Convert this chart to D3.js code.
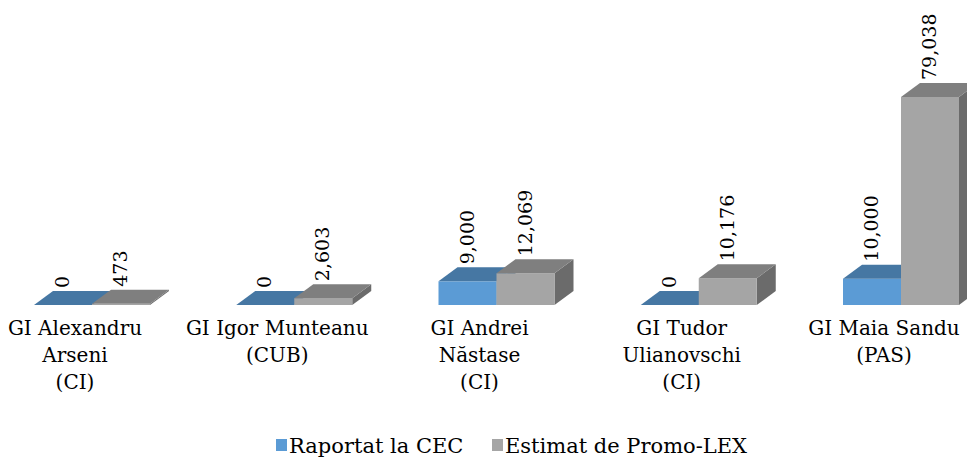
<!DOCTYPE html>
<html>
<head>
<meta charset="utf-8">
<script src="https://cdn.jsdelivr.net/npm/d3@7"></script>
<style>
  body { margin: 0; background: #fff; }
  svg { display: block; }
</style>
</head>
<body>
<div id="chart"></div>
<script>
// Raportat vs estimat - 3D clustered columns

const categories = ['Arseni', 'Munteanu', 'Nastase', 'Ulianovschi', 'Sandu'];
const categoryLabels = [
  ['GI Alexandru', 'Arseni', '(CI)'],
  ['GI Igor Munteanu', '(CUB)'],
  ['GI Andrei', 'Năstase', '(CI)'],
  ['GI Tudor', 'Ulianovschi', '(CI)'],
  ['GI Maia Sandu', '(PAS)']
];
const seriesNames = ['Raportat la CEC', 'Estimat de Promo-LEX'];
const reported = [0, 0, 9000, 0, 10000];
const estimated = [473, 2603, 12069, 10176, 79038];

const width = 967;
const height = 459;
const depthX = 19;
const depthY = -14;

const colors = {
  front: ['#5b9bd5', '#a5a5a5'],
  top: ['#4677a3', '#7f7f7f'],
  side: ['#3e6a93', '#6b6b6b']
};

const svg = d3.select('#chart')
  .append('svg')
  .attr('width', width)
  .attr('height', height);

const x = d3.scalePoint()
  .domain(categories)
  .range([92, 901]);

const xs = d3.scaleBand()
  .domain(seriesNames)
  .range([-58, 58]);

const y = d3.scaleLinear()
  .domain([0, 79038])
  .range([305, 97]);

const fmt = d3.format(',');

const rows = [];
categories.forEach((c, i) => {
  rows.push({ cat: c, s: 0, v: reported[i] });
  rows.push({ cat: c, s: 1, v: estimated[i] });
});

// bars, back to front: blue then gray within each category
const bars = svg.append('g')
  .selectAll('g')
  .data(rows)
  .enter().append('g');

bars.each(function(d) {
  const g = d3.select(this);
  const x0 = x(d.cat) + xs(seriesNames[d.s]);
  const x1 = x0 + xs.bandwidth();
  const y0 = y(0);
  const y1 = y(d.v);

  // side face
  g.append('path')
    .attr('d', `M${x1},${y1}L${x1 + depthX},${y1 + depthY}L${x1 + depthX},${y0 + depthY}L${x1},${y0}Z`)
    .attr('fill', colors.side[d.s]);
  // front face
  g.append('rect')
    .attr('x', x0)
    .attr('y', y1)
    .attr('width', xs.bandwidth())
    .attr('height', y0 - y1)
    .attr('fill', colors.front[d.s]);
  // top face
  g.append('path')
    .attr('d', `M${x0},${y1}L${x0 + depthX},${y1 + depthY}L${x1 + depthX},${y1 + depthY}L${x1},${y1}Z`)
    .attr('fill', colors.top[d.s]);
});

// value labels, rotated
svg.append('g')
  .selectAll('text')
  .data(rows)
  .enter().append('text')
  .attr('transform', d => {
    const cx = x(d.cat) + xs(seriesNames[d.s]) + xs.bandwidth() / 2 + 6;
    const cy = y(d.v) + depthY - 3;
    return `translate(${cx},${cy}) rotate(-90)`;
  })
  .attr('font-family', 'DejaVu Serif')
  .attr('font-size', 19)
  .attr('fill', '#000')
  .text(d => fmt(d.v));

// category labels
const catLabel = svg.append('g')
  .selectAll('text')
  .data(categories)
  .enter().append('text')
  .attr('text-anchor', 'middle')
  .attr('font-family', 'DejaVu Serif')
  .attr('font-size', 20)
  .attr('fill', '#000');

catLabel.each(function(d, i) {
  const t = d3.select(this);
  categoryLabels[i].forEach((line, k) => {
    t.append('tspan')
      .attr('x', x(d) - 17)
      .attr('y', 335 + k * 27)
      .text(line);
  });
});

// legend
const legend = svg.append('g');
const legendX = [276, 492];
seriesNames.forEach((s, i) => {
  legend.append('rect')
    .attr('x', legendX[i])
    .attr('y', 439)
    .attr('width', 11)
    .attr('height', 12)
    .attr('fill', colors.front[i]);
  legend.append('text')
    .attr('x', legendX[i] + 13)
    .attr('y', 453)
    .attr('font-family', 'DejaVu Serif')
    .attr('font-size', 21)
    .attr('fill', '#000')
    .text(s);
});
</script>
</body>
</html>
